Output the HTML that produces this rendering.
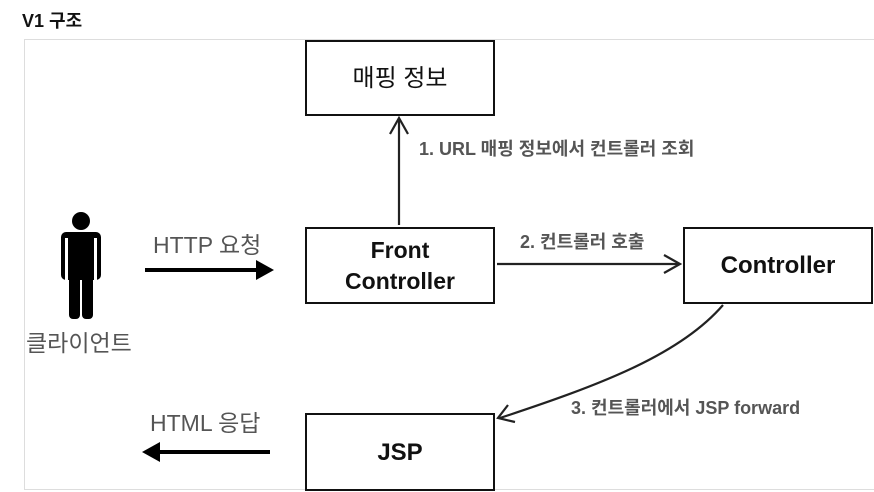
<!DOCTYPE html>
<html><head><meta charset="utf-8"><style>
body{margin:0;width:874px;height:492px;background:#fff;position:relative;overflow:hidden;font-family:"Liberation Sans","Noto Sans CJK KR",sans-serif}
.t{position:absolute;white-space:nowrap}
.box{position:absolute;border:2px solid #111;box-sizing:border-box;display:flex;align-items:center;justify-content:center;text-align:center;font-size:24px;font-weight:bold;color:#111;line-height:31px;background:#fff}
</style></head><body>
<div class="t" style="left:22px;top:7px;font-size:18px;font-weight:bold;color:#111">V1 구조</div>
<div style="position:absolute;left:24px;top:39px;width:852px;height:451px;border:1px solid #ddd;box-sizing:border-box"></div>
<div class="box" style="left:305px;top:40px;width:190px;height:76px;font-size:24px;font-weight:normal">매핑 정보</div>
<div class="box" style="left:305px;top:227px;width:190px;height:77px;font-size:23px">Front<br>Controller</div>
<div class="box" style="left:683px;top:227px;width:190px;height:77px">Controller</div>
<div class="box" style="left:305px;top:413px;width:190px;height:78px">JSP</div>
<svg width="874" height="492" style="position:absolute;left:0;top:0">
<g fill="#000">
<ellipse cx="81" cy="221" rx="9" ry="9"/>
<rect x="61" y="232" width="40" height="48" rx="5"/>
<rect x="69" y="270" width="11" height="49" rx="4"/>
<rect x="82" y="270" width="11" height="49" rx="4"/>
</g>
<rect x="65" y="238" width="3" height="42" fill="#fff"/>
<rect x="94" y="238" width="3" height="42" fill="#fff"/>
<line x1="145" y1="270" x2="260" y2="270" stroke="#000" stroke-width="4"/>
<polygon points="256,260 274,270 256,280" fill="#000"/>
<line x1="270" y1="452" x2="155" y2="452" stroke="#000" stroke-width="4"/>
<polygon points="160,442 142,452 160,462" fill="#000"/>
<g stroke="#222" stroke-width="2.2" fill="none">
<line x1="399" y1="225" x2="399" y2="120"/>
<polyline points="390,134 399,118 408,134"/>
<line x1="497" y1="264" x2="678" y2="264"/>
<polyline points="664,255 680,264 664,273"/>
<path d="M723,305 C680,355 600,385 500,418"/>
<polyline points="508,405 498,418 515,422"/>
</g>
</svg>
<div class="t" style="left:419px;top:135px;font-size:18px;font-weight:bold;color:#555">1. URL 매핑 정보에서 컨트롤러 조회</div>
<div class="t" style="left:520px;top:228px;font-size:18px;font-weight:bold;color:#555">2. 컨트롤러 호출</div>
<div class="t" style="left:571px;top:394px;font-size:18px;font-weight:bold;color:#555">3. 컨트롤러에서 JSP forward</div>
<div class="t" style="left:153px;top:226px;font-size:23px;color:#555">HTTP 요청</div>
<div class="t" style="left:150px;top:404px;font-size:23px;color:#555">HTML 응답</div>
<div class="t" style="left:26px;top:324px;font-size:23px;color:#555">클라이언트</div>
</body></html>
